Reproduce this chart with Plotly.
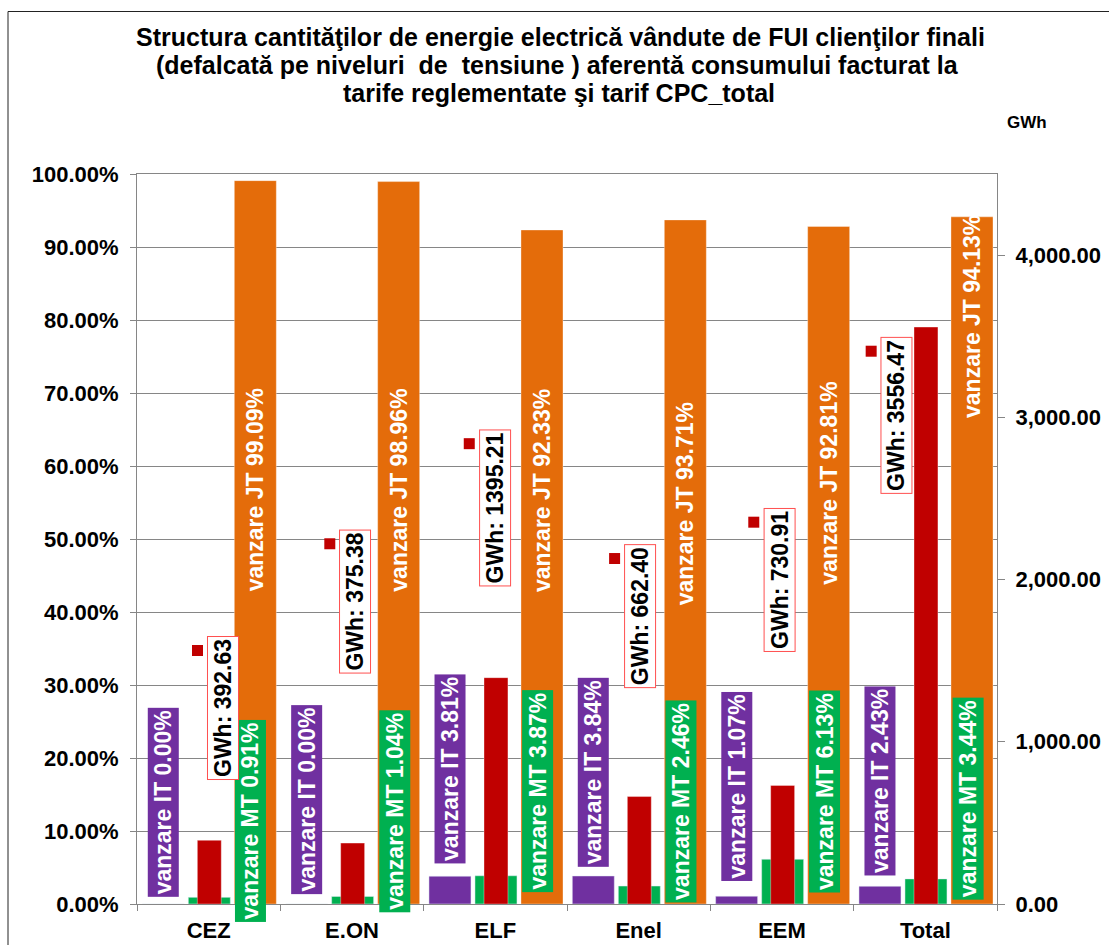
import plotly.graph_objects as go

# ---------------- data ----------------
categories = ["CEZ", "E.ON", "ELF", "Enel", "EEM", "Total"]
it_pct = [0.00, 0.00, 3.81, 3.84, 1.07, 2.43]        # vanzare IT (%)
mt_pct = [0.91, 1.04, 3.87, 2.46, 6.13, 3.44]        # vanzare MT (%)
jt_pct = [99.09, 98.96, 92.33, 93.71, 92.81, 94.13]  # vanzare JT (%)
gwh = [392.63, 375.38, 1395.21, 662.40, 730.91, 3556.47]  # GWh (right axis)

title_lines = [
    "Structura cantităţilor de energie electrică vândute de FUI clienţilor finali",
    "(defalcată pe niveluri  de  tensiune ) aferentă consumului facturat la",
    "tarife reglementate şi tarif CPC_total",
]

# ---------------- label placement (axis units) ----------------
it_label_y = [13.97, 14.25, 18.5, 18.08, 16.05, 16.85]
mt_label_y = [11.44, 12.67, 15.48, 14.11, 15.38, 14.45]
jt_label_y = [56.71, 56.71, 56.71, 54.79, 57.67, 80.55]
gwh_label_top = [1652, 2310, 2927, 2219, 2443, 3497]
gwh_label_dx = [0.10, 0.023, -0.004, 0.010, -0.019, -0.20]
title_x = [0.4930, 0.4884, 0.4907]
title_y = [1.1877, 1.1493, 1.1110]

# ---------------- styles ----------------
PURPLE = "#7030A0"
GREEN = "#00B050"
ORANGE = "#E46C0A"
RED = "#C00000"
GRID = "#868686"
FONT = "Arial, Liberation Sans, sans-serif"

BAR_W = 0.293
OFF_IT, OFF_MT, OFF_JT = -0.463, -0.142, 0.179
OFF_GWH, W_GWH = -0.079, 0.167
MT_LABEL_DX = 0.295

fig = go.Figure()
fig.add_trace(go.Bar(x=categories, y=it_pct, name="vanzare IT", marker_color=PURPLE,
                     offset=OFF_IT, width=BAR_W, yaxis="y", hoverinfo="skip"))
fig.add_trace(go.Bar(x=categories, y=mt_pct, name="vanzare MT", marker_color=GREEN,
                     offset=OFF_MT, width=BAR_W, yaxis="y", hoverinfo="skip"))
fig.add_trace(go.Bar(x=categories, y=jt_pct, name="vanzare JT", marker_color=ORANGE,
                     marker_line=dict(color="rgba(255,255,255,0.35)", width=1),
                     offset=OFF_JT, width=BAR_W, yaxis="y", hoverinfo="skip"))
fig.add_trace(go.Bar(x=categories, y=gwh, name="GWh", marker_color=RED,
                     marker_line=dict(color="rgba(255,255,255,0.35)", width=1),
                     offset=OFF_GWH, width=W_GWH, yaxis="y2", hoverinfo="skip"))

annotations = []
shapes = []
lab_font_w = dict(family=FONT, size=23, color="white", weight="bold")
lab_font_k = dict(family=FONT, size=23, color="black", weight="bold")
for i, c in enumerate(categories):
    annotations.append(dict(x=i + OFF_IT + BAR_W / 2, y=it_label_y[i], xref="x", yref="y",
                            text=f"vanzare IT {it_pct[i]:.2f}%", textangle=-90, showarrow=False,
                            font=lab_font_w, bgcolor=PURPLE, borderpad=2))
    annotations.append(dict(x=i + MT_LABEL_DX, y=mt_label_y[i], xref="x", yref="y",
                            text=f"vanzare MT {mt_pct[i]:.2f}%", textangle=-90, showarrow=False,
                            font=lab_font_w, bgcolor=GREEN, borderpad=2))
    annotations.append(dict(x=i + OFF_JT + BAR_W / 2, y=jt_label_y[i], xref="x", yref="y",
                            text=f"vanzare JT {jt_pct[i]:.2f}%", textangle=-90, showarrow=False,
                            font=lab_font_w, borderpad=2))
    annotations.append(dict(x=i + gwh_label_dx[i], y=gwh_label_top[i], xref="x", yref="y2",
                            yanchor="top", text=f"GWh: {gwh[i]:.2f}", textangle=-90, showarrow=False,
                            font=lab_font_k, bgcolor="white", bordercolor="#FF5050",
                            borderwidth=1, borderpad=2))
    # legend key attached to the GWh data label
    shapes.append(dict(type="rect", xref="x", yref="y2",
                       xsizemode="pixel", xanchor=i + gwh_label_dx[i], x0=-31, x1=-20,
                       ysizemode="pixel", yanchor=gwh_label_top[i], y0=-20, y1=-9,
                       fillcolor=RED, line=dict(width=0), layer="above"))

for t, tx, ty in zip(title_lines, title_x, title_y):
    annotations.append(dict(x=tx, y=ty, xref="paper", yref="paper", xanchor="center",
                            yanchor="middle", text=t, showarrow=False,
                            font=dict(family=FONT, size=25, color="black", weight="bold")))

annotations.append(dict(x=1.035, y=1.071, xref="paper", yref="paper", text="GWh",
                        xanchor="center", yanchor="middle", showarrow=False,
                        font=dict(family=FONT, size=17, color="black", weight="bold")))

# outer chart frame
shapes.append(dict(type="rect", xref="paper", yref="paper", x0=-0.15, x1=1.2, y0=-0.1, y1=1.2226,
                   line=dict(color="#222222", width=1), fillcolor="rgba(0,0,0,0)", layer="below"))

tick_font = dict(family=FONT, size=22, color="black", weight="bold")

fig.update_layout(
    width=1109, height=945,
    margin=dict(l=137, r=112, t=174, b=41, autoexpand=False),
    paper_bgcolor="white", plot_bgcolor="white",
    barmode="overlay", showlegend=False,
    xaxis=dict(type="category", range=[-0.5, 5.5], tickson="boundaries", ticks="outside",
               ticklen=6, tickcolor=GRID, showline=True, linecolor=GRID, mirror=True,
               showgrid=False, tickfont=tick_font, automargin=False, ticklabelstandoff=7),
    yaxis=dict(range=[0, 100], dtick=10, tickformat=".2f", ticksuffix="%", ticks="outside",
               ticklen=6, tickcolor=GRID, showline=True, linecolor=GRID, mirror=True,
               showgrid=True, gridcolor=GRID, gridwidth=1, zeroline=False,
               tickfont=tick_font, automargin=False, ticklabelstandoff=7),
    yaxis2=dict(overlaying="y", side="right", range=[0, 4500], dtick=1000, tickformat=",.2f",
                ticks="outside", ticklen=7, tickcolor=GRID, showline=True, linecolor=GRID,
                showgrid=False, zeroline=False, tickfont=tick_font, automargin=False,
                ticklabelstandoff=6),
    annotations=annotations,
    shapes=shapes,
)

fig.write_html("out.html", config={"displayModeBar": False},
               post_script="document.body.style.margin='0';")
